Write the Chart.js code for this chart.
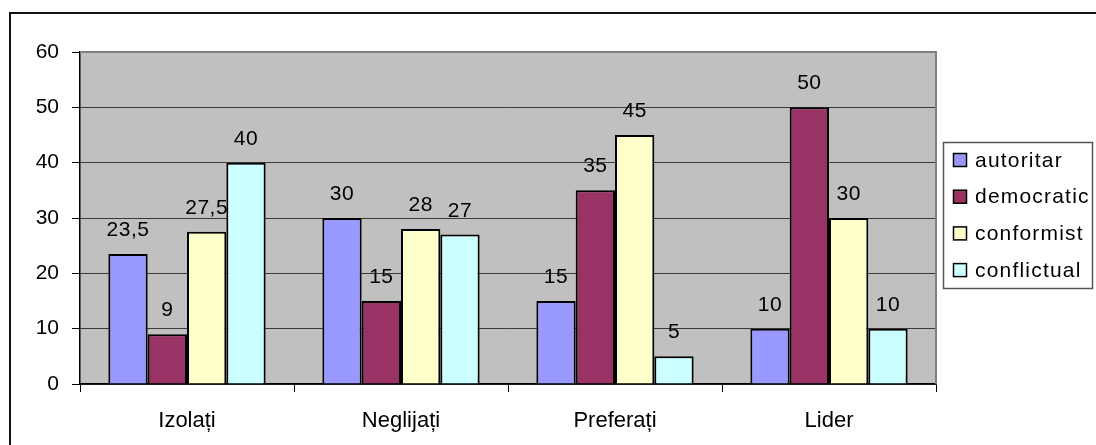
<!DOCTYPE html>
<html>
<head>
<meta charset="utf-8">
<script src="https://cdn.jsdelivr.net/npm/chart.js@4"></script>
<style>
  html, body { margin: 0; padding: 0; background: #fff; overflow: hidden; }
  #wrap { position: relative; width: 1096px; height: 445px; }
  #frame { position: absolute; left: 9px; top: 12px; width: 2000px; height: 2000px;
           border-left: 2px solid #111; border-top: 2px solid #111; pointer-events: none; }
</style>
</head>
<body>
<div id="wrap">
  <canvas id="c" width="1096" height="445"></canvas>
  <div id="frame"></div>
</div>
<script>
const categories = ['Izolați', 'Neglijați', 'Preferați', 'Lider'];
const seriesNames = ['autoritar', 'democratic', 'conformist', 'conflictual'];
const autoritar   = [23.5, 30, 15, 10];
const democratic  = [9, 15, 35, 50];
const conformist  = [27.5, 28, 45, 30];
const conflictual = [40, 27, 5, 10];
const yTicks = [0, 10, 20, 30, 40, 50, 60];

const seriesValues = [autoritar, democratic, conformist, conflictual];
const colors = ['#9999FF', '#993366', '#FFFFCC', '#CCFFFF'];
const FONT = '"Liberation Sans", Arial, sans-serif';

const bgPlugin = {
  id: 'bg',
  beforeDraw(chart) {
    const a = chart.chartArea, ctx = chart.ctx;
    ctx.save();
    ctx.fillStyle = '#C0C0C0';
    ctx.fillRect(a.left, a.top, a.right - a.left, a.bottom - a.top);
    ctx.restore();
  },
  afterDatasetsDraw(chart) {
    const a = chart.chartArea, ctx = chart.ctx;
    ctx.save();
    ctx.strokeStyle = '#808080';
    ctx.lineWidth = 2;
    ctx.beginPath();
    ctx.moveTo(a.left, a.top);
    ctx.lineTo(a.right, a.top);
    ctx.lineTo(a.right, a.bottom);
    ctx.stroke();
    ctx.fillStyle = '#000';
    ctx.font = '21px ' + FONT;
    try { ctx.letterSpacing = '0.5px'; } catch (e) {}
    ctx.textAlign = 'center';
    ctx.textBaseline = 'alphabetic';
    chart.data.datasets.forEach((ds, i) => {
      const meta = chart.getDatasetMeta(i);
      meta.data.forEach((bar, j) => {
        const v = ds.data[j];
        ctx.fillText(String(v).replace('.', ','), bar.x, bar.y - 18);
      });
    });
    ctx.restore();
  },
  afterDraw(chart) {
    const ctx = chart.ctx;
    ctx.save();
    ctx.strokeStyle = '#555';
    ctx.lineWidth = 1.5;
    ctx.fillStyle = '#fff';
    ctx.fillRect(943.5, 142.5, 149, 146);
    ctx.strokeRect(943.5, 142.5, 149, 146);
    ctx.font = '21px ' + FONT;
    try { ctx.letterSpacing = '1.2px'; } catch (e) {}
    ctx.textAlign = 'left';
    ctx.textBaseline = 'middle';
    chart.data.datasets.forEach((ds, i) => {
      const cy = 160 + i * 36.7;
      ctx.fillStyle = ds.backgroundColor;
      ctx.fillRect(953.5, cy - 6.5, 13, 13);
      ctx.strokeStyle = '#000';
      ctx.lineWidth = 1.5;
      ctx.strokeRect(953.5, cy - 6.5, 13, 13);
      ctx.fillStyle = '#000';
      ctx.fillText(ds.label, 975, cy + 1);
    });
    ctx.restore();
  }
};

new Chart(document.getElementById('c'), {
  type: 'bar',
  data: {
    labels: categories,
    datasets: seriesNames.map((n, i) => ({
      label: n,
      data: seriesValues[i],
      backgroundColor: colors[i],
      borderColor: '#000',
      borderWidth: 2,
      barPercentage: 1.0,
      categoryPercentage: 0.735
    }))
  },
  options: {
    responsive: false,
    animation: false,
    layout: { padding: { left: 0, top: 52, right: 160, bottom: 0 } },
    plugins: { legend: { display: false }, tooltip: { enabled: false } },
    scales: {
      x: {
        afterFit(s) { s.height = 61; },
        grid: { offset: true, drawOnChartArea: false, drawTicks: true, tickLength: 8, tickColor: '#000' },
        border: { display: true, color: '#000', width: 1.5 },
        ticks: { color: '#000', font: { family: FONT, size: 22 }, padding: 16, maxRotation: 0 }
      },
      y: {
        min: 0, max: 60,
        afterFit(s) { s.width = 80; },
        afterBuildTicks(s) { s.ticks = yTicks.map(v => ({ value: v })); },
        grid: {
          color: (c) => c.tick && c.tick.value === 60 ? '#808080' : '#3a3a3a',
          lineWidth: 1,
          tickLength: 8, tickColor: '#000'
        },
        border: { display: true, color: '#000', width: 1.5 },
        ticks: { color: '#000', font: { family: FONT, size: 21 }, padding: 13 }
      }
    }
  },
  plugins: [bgPlugin]
});
</script>
</body>
</html>
